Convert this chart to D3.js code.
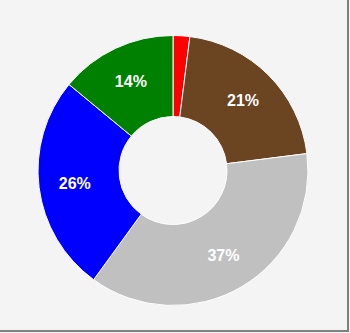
<!DOCTYPE html>
<html><head><meta charset="utf-8">
<script src="https://cdn.jsdelivr.net/npm/d3@7"></script>
<style>html,body{margin:0;padding:0;background:#fff;}svg{display:block;}</style>
</head><body>
<svg id="c" width="350" height="333"></svg>
<script>
const categories = ["Red","Brown","Silver","Blue","Green"];
const values = [2, 21, 37, 26, 14];
const colors = ["#ff0000","#6b4421","#c0c0c0","#0000ff","#008000"];
const labels = ["", "21%", "37%", "26%", "14%"];

const svg = d3.select("#c");
svg.append("rect").attr("width",350).attr("height",333).attr("fill","#f4f4f4");
svg.append("rect").attr("x",347).attr("y",0).attr("width",2).attr("height",332).attr("fill","#808080");
svg.append("rect").attr("x",0).attr("y",330).attr("width",349).attr("height",2).attr("fill","#808080");

const cx = 173, cy = 170.5, rOut = 135, rIn = 54;
const pie = d3.pie().sort(null).value(d => d)(values);
const arc = d3.arc().innerRadius(rIn).outerRadius(rOut);
const labelArc = d3.arc().innerRadius(99).outerRadius(99);
const g = svg.append("g").attr("transform",`translate(${cx},${cy})`);
g.selectAll("path").data(pie).join("path")
  .attr("d", arc).attr("fill",(d,i)=>colors[i])
  .attr("stroke","#ffffff").attr("stroke-width",1);
g.selectAll("text").data(pie).join("text")
  .attr("transform", d => `translate(${labelArc.centroid(d)})`)
  .attr("text-anchor","middle").attr("dy","0.36em")
  .attr("fill","#ffffff").attr("font-family","Liberation Sans, Arial, sans-serif")
  .attr("font-weight","bold").attr("font-size","16px")
  .text((d,i)=>labels[i]);
</script>
</body></html>
